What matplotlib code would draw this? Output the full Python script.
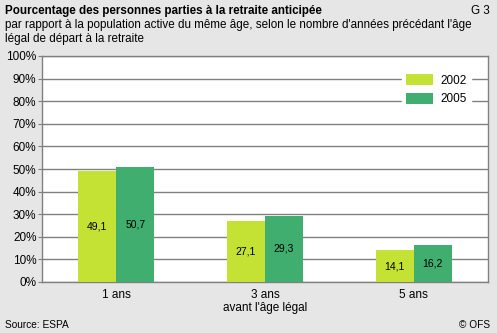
import numpy as np
import matplotlib.pyplot as plt

plt.rcParams['font.family'] = ['Liberation Sans', 'DejaVu Sans']

categories = ['1 ans', '3 ans\navant l\'âge légal', '5 ans']
years = ['2002', '2005']
values_2002 = [49.1, 27.1, 14.1]
values_2005 = [50.7, 29.3, 16.2]
colors = ['#c3e234', '#3fae6e']
bg = '#e6e6e6'

fig = plt.figure(figsize=(4.97, 3.33), dpi=100, facecolor=bg)
W, H = 497, 333
ax = fig.add_axes([42 / W, 1 - 282 / H, 446 / W, 226 / H])
ax.set_facecolor('white')

x = np.arange(len(categories))
bw = 0.255
series = [values_2002, values_2005]
for i, vals in enumerate(series):
    off = (i - 0.5) * bw
    ax.bar(x + off, vals, bw, color=colors[i], label=years[i], zorder=3)
    for xi, v in zip(x + off, vals):
        ax.text(xi, v / 2, f"{v:.1f}".replace('.', ','), ha='center', va='center',
                fontsize=7.5, zorder=4)

ax.set_xlim(-0.5, 2.5)
ax.set_ylim(0, 100)
ax.set_yticks(np.arange(0, 101, 10))
ax.set_yticklabels([f"{t}%" for t in range(0, 101, 10)], fontsize=8.5)
ax.yaxis.grid(True, color='#808080', lw=1, zorder=1)
ax.tick_params(axis='y', length=3, color='#808080', pad=1)
ax.set_xticks(x)
ax.set_xticklabels(categories, fontsize=8.5, linespacing=1.1)
ax.tick_params(axis='x', length=0, pad=5)
for s in ['left', 'bottom', 'top', 'right']:
    ax.spines[s].set_color('#808080')
    ax.spines[s].set_linewidth(1)

leg = ax.legend(loc='upper right', bbox_to_anchor=(0.975, 0.965), frameon=True,
                fontsize=8.5, handlelength=2.3, handleheight=1.1, borderpad=0.35,
                labelspacing=0.5, handletextpad=0.6, fancybox=False)
leg.get_frame().set_edgecolor('white')
leg.get_frame().set_facecolor('white')
leg.get_frame().set_alpha(1)
leg.set_zorder(5)

fig.text(5 / W, 1 - 11 / H, 'Pourcentage des personnes parties à la retraite anticipée',
         fontsize=8.4, fontweight='bold', va='center')
fig.text(490 / W, 1 - 11 / H, 'G 3', fontsize=8.4, ha='right', va='center')
fig.text(5 / W, 1 - 25 / H,
         "par rapport à la population active du même âge, selon le nombre d'années précédant l'âge",
         fontsize=8.4, va='center')
fig.text(5 / W, 1 - 39 / H, "légal de départ à la retraite", fontsize=8.4, va='center')
fig.text(5 / W, 1 - 325 / H, 'Source: ESPA', fontsize=7.3, va='center')
fig.text(490 / W, 1 - 325 / H, '© OFS', fontsize=7.3, ha='right', va='center')

fig.savefig('out.png', dpi=100, facecolor=bg)
